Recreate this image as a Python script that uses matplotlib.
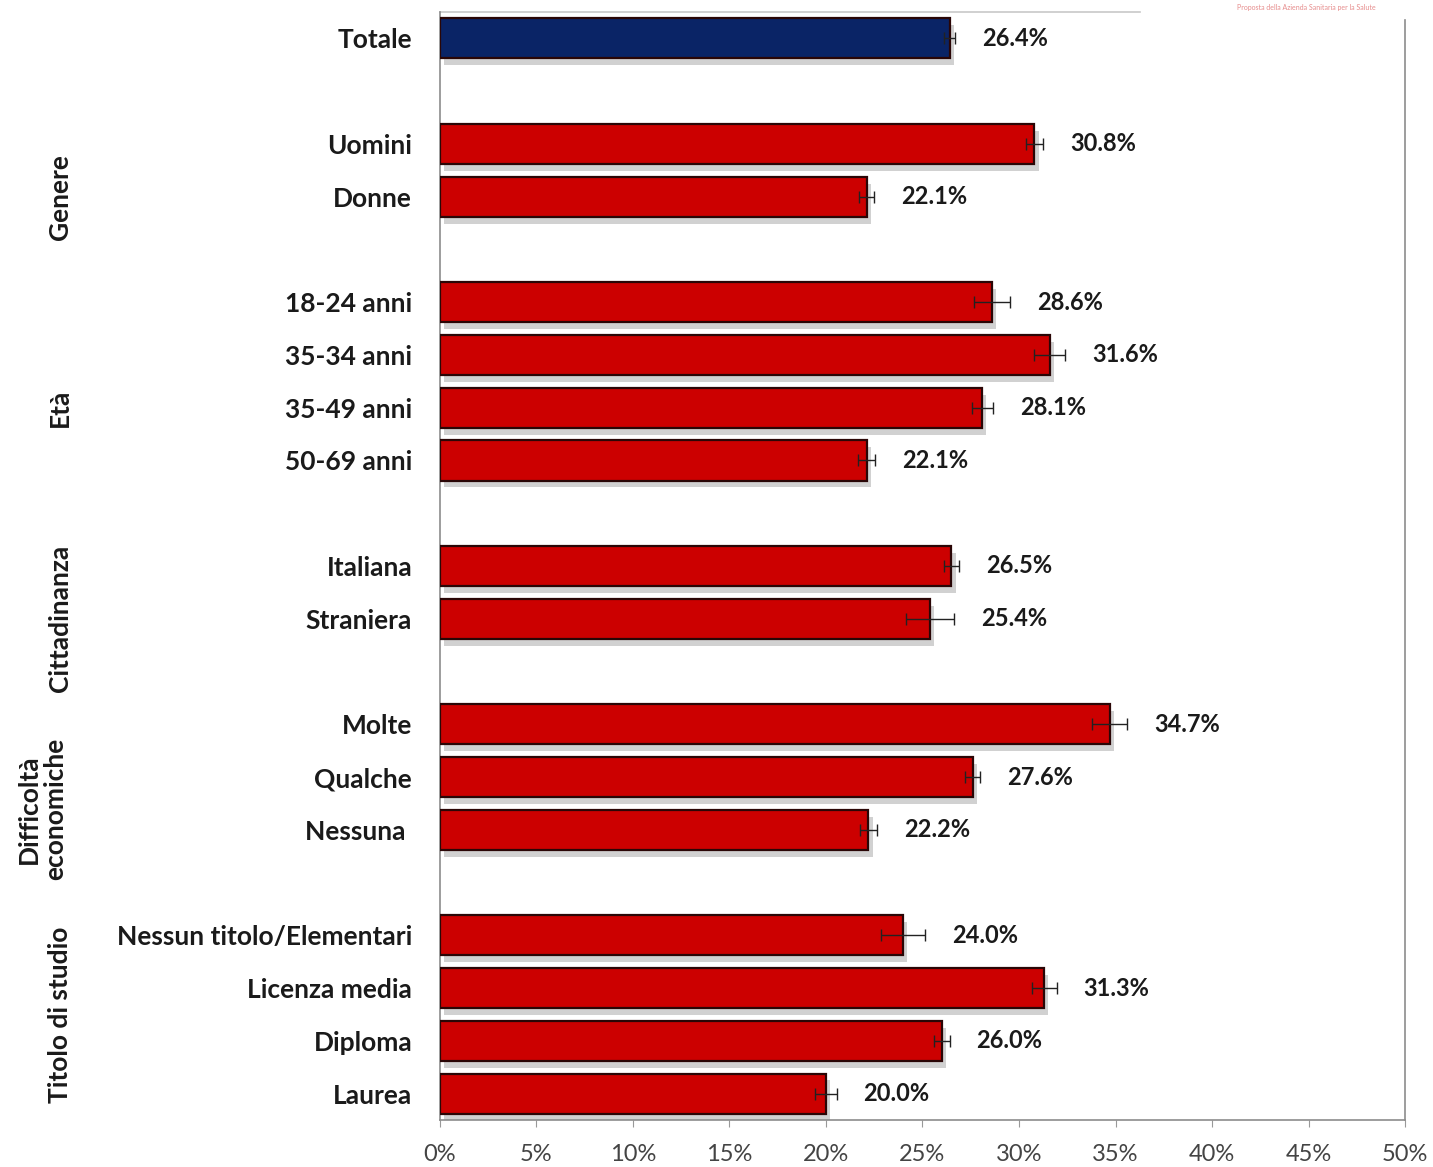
import matplotlib
matplotlib.use("Agg")
import matplotlib.pyplot as plt
import matplotlib.patheffects as pe
from matplotlib.transforms import blended_transform_factory
import numpy as np

# Categories (top to bottom), grouped
groups = ["Totale", "Genere", "Età", "Cittadinanza", "Difficoltà\neconomiche", "Titolo di studio"]
group_members = [
    ["Totale"],
    ["Uomini", "Donne"],
    ["18-24 anni", "35-34 anni", "35-49 anni", "50-69 anni"],
    ["Italiana", "Straniera"],
    ["Molte", "Qualche", "Nessuna "],
    ["Nessun titolo/Elementari", "Licenza media", "Diploma", "Laurea"],
]
values = [
    [26.4],
    [30.8, 22.1],
    [28.6, 31.6, 28.1, 22.1],
    [26.5, 25.4],
    [34.7, 27.6, 22.2],
    [24.0, 31.3, 26.0, 20.0],
]
# half-width of the confidence intervals (percentage points)
errors = [
    [0.3],
    [0.45, 0.4],
    [0.95, 0.8, 0.55, 0.45],
    [0.4, 1.25],
    [0.9, 0.4, 0.45],
    [1.15, 0.65, 0.4, 0.55],
]
xticks = list(range(0, 55, 5))

plt.rcParams["font.family"] = ["Lato", "DejaVu Sans"]

fig = plt.figure(figsize=(14.33, 11.67), dpi=100)
ax = fig.add_axes([0.307, 0.0403, 0.6735, 0.9494])

pos, labels, vals, errs, colors, group_pos = [], [], [], [], [], []
y = 0
for gi, (members, gv, ge) in enumerate(zip(group_members, values, errors)):
    start = y
    for m, v, e in zip(members, gv, ge):
        pos.append(y)
        labels.append(m)
        vals.append(v)
        errs.append(e)
        colors.append("#0A2466" if gi == 0 else "#CC0000")
        y += 1
    group_pos.append((start + y - 1) / 2)
    y += 1

shadow = [pe.SimplePatchShadow(offset=(3, -5), shadow_rgbFace="0.55", alpha=0.4), pe.Normal()]
bars = ax.barh(pos, vals, height=0.76, color=colors, edgecolor="#2a0606", linewidth=1.6, zorder=3)
for b in bars:
    b.set_path_effects(shadow)

ax.errorbar(vals, pos, xerr=errs, fmt="none", ecolor="#222222", elinewidth=1.0,
            capsize=4, capthick=1.0, zorder=4)

for p, v, e in zip(pos, vals, errs):
    ax.text(v + e + 1.4, p, f"{v:.1f}%", va="center", ha="left",
            fontsize=17, fontweight="bold", color="#1a1a1a", zorder=5)

ax.set_xlim(0, 50)
ax.set_ylim(20.5, -0.5)
ax.set_yticks(pos)
ax.set_yticklabels(labels, fontsize=19, fontweight="bold", color="#1a1a1a")
ax.tick_params(axis="y", length=0, pad=20)
ax.set_xticks(xticks)
ax.set_xticklabels([f"{t}%" for t in xticks], fontsize=17, color="#444444")
ax.tick_params(axis="x", length=5, color="#999999", pad=12)

for s in ["left", "bottom", "right"]:
    ax.spines[s].set_color("#8c8c8c")
    ax.spines[s].set_linewidth(1.2)
ax.spines["right"].set_bounds(20.5, -0.35)
ax.spines["top"].set_visible(False)
ax.plot([0, 0.725], [1, 1], transform=ax.transAxes, color="#c8c8c8", lw=1.2, clip_on=False)

# Group labels on the left
tr = blended_transform_factory(fig.transFigure, ax.transData)
offsets = [0, 0.5, 0.5, 0.5, 0.6, 0.0]
for g, gp, off in list(zip(groups, group_pos, offsets))[1:]:
    ax.text(0.0295 if "\n" in g else 0.042, gp + off, g, transform=tr, rotation=90,
            ha="center", va="center", fontsize=19, fontweight="bold",
            color="#1a1a1a", multialignment="center", linespacing=1.1)

fig.text(0.8635, 0.9935, "Proposta della Azienda Sanitaria per la Salute", fontsize=5,
         color="#e07070", alpha=0.8, ha="left", va="center")

fig.savefig("out.png", dpi=100, facecolor="white")
